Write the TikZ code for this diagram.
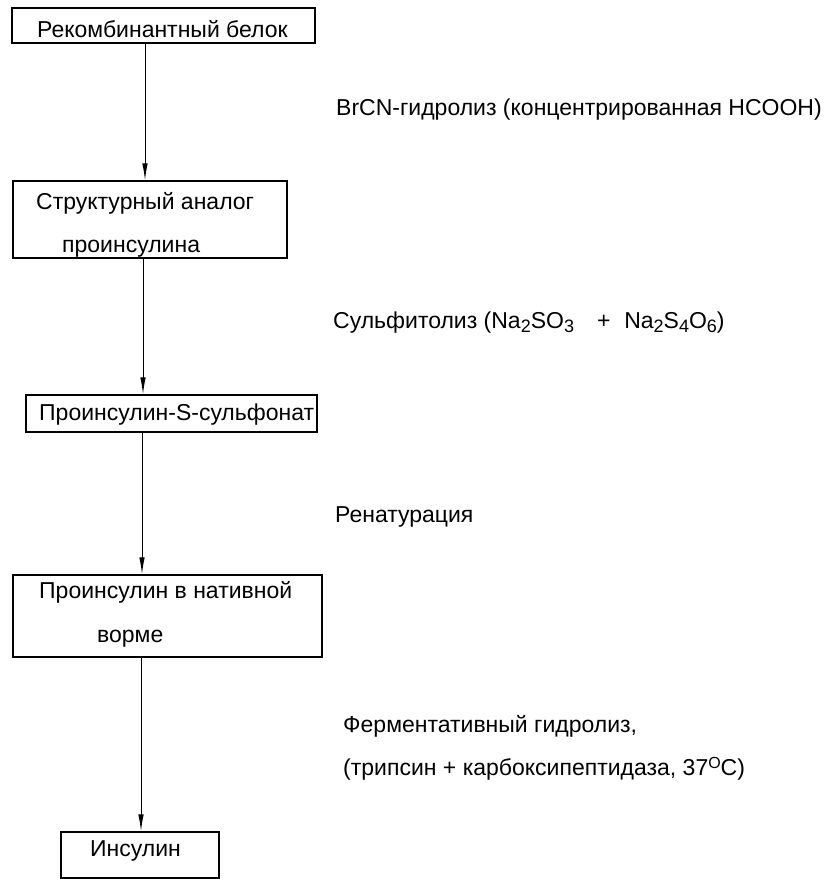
\documentclass[tikz,border=0pt]{standalone}
\usepackage{fontspec}
\setmainfont{Liberation Sans}
\usetikzlibrary{arrows.meta}
\newcommand\mysb[1]{\raisebox{-0.38ex}{\fontsize{18}{18}\selectfont #1}}
\newcommand\mysp[1]{\raisebox{0.55ex}{\fontsize{16}{16}\selectfont #1}}
\begin{document}
\begin{tikzpicture}[x=1pt,y=-1pt,
  box/.style={draw, line width=1.3pt, inner sep=0pt},
  txt/.style={anchor=base west, inner sep=0pt, font=\fontsize{23}{27}\selectfont},
  arr/.style={line width=1pt, -{Latex[length=17pt,width=5.5pt]}}]
\useasboundingbox (0,0) rectangle (835,879);
% boxes
\node[box, minimum width=303pt, minimum height=35pt] (b1) at (163.5,25.5) {};
\node[box, minimum width=274pt, minimum height=77pt] (b2) at (150,219.5) {};
\node[box, minimum width=291pt, minimum height=37pt] (b3) at (171.5,413.5) {};
\node[box, minimum width=309pt, minimum height=82pt] (b4) at (167.5,616) {};
\node[box, minimum width=158pt, minimum height=46pt] (b5) at (140,855) {};
% box texts
\node[txt] (t1) at (37,37) {Рекомбинантный белок};
\node[txt] (t2a) at (36,209) {Структурный аналог};
\node[txt] (t2b) at (62,252) {проинсулина};
\node[txt] (t3) at (39,420) {Проинсулин-S-сульфонат};
\node[txt] (t4a) at (39,598) {Проинсулин в нативной};
\node[txt] (t4b) at (97,642) {ворме};
\node[txt] (t5) at (90,856) {Инсулин};
% step labels
\node[txt] (l1) at (336,115) {BrCN-гидролиз (концентрированная HCOOH)};
\node[txt] (l2) at (333,328) {Сульфитолиз (Na\mysb{2}SO\mysb{3}\hspace{1.0em}+\hspace{0.6em}Na\mysb{2}S\mysb{4}O\mysb{6})};
\node[txt] (l3) at (335,522) {Ренатурация};
\node[txt] (l4a) at (343,732) {Ферментативный гидролиз,};
\node[txt] (l4b) at (343,775) {(трипсин + карбоксипептидаза, 37\mysp{O}C)};
% connectors
\coordinate (a1) at (145,0);
\coordinate (a2) at (143,0);
\coordinate (a3) at (142,0);
\coordinate (a4) at (141,0);
\draw[arr] (b1.south -| a1) -- (b2.north -| a1);
\draw[arr] (b2.south -| a2) -- (b3.north -| a2);
\draw[arr] (b3.south -| a3) -- (b4.north -| a3);
\draw[arr] (b4.south -| a4) -- (b5.north -| a4);
\end{tikzpicture}
\end{document}
